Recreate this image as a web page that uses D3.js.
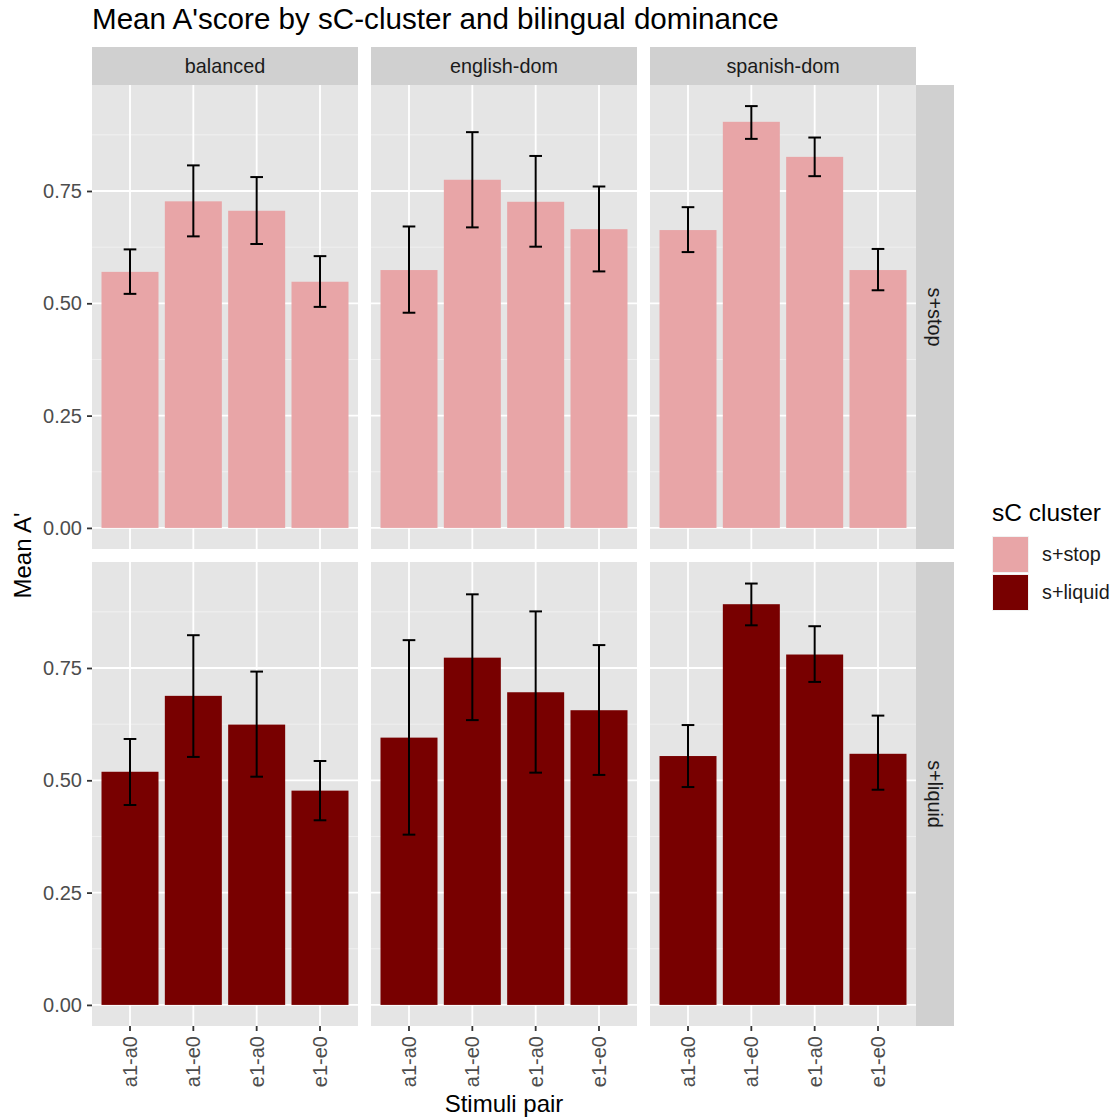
<!DOCTYPE html>
<html>
<head>
<meta charset="utf-8">
<script src="https://cdn.jsdelivr.net/npm/d3@7"></script>
<style>
  html, body { margin: 0; padding: 0; background: #ffffff; }
  svg { display: block; font-family: "Liberation Sans", Arial, Helvetica, sans-serif; }
</style>
</head>
<body>
<svg id="chart" width="1117" height="1120"></svg>
<script>
// Facet levels and categories
const dominance = ["balanced", "english-dom", "spanish-dom"];
const clusters = ["s+stop", "s+liquid"];
const pairs = ["a1-a0", "a1-e0", "e1-a0", "e1-e0"];
const yTicks = [0, 0.25, 0.5, 0.75];
const yMinor = [0.125, 0.375, 0.625, 0.875];

// Mean A' per pair (order of `pairs`), one array per cluster x dominance
const meanStopBalanced = [0.570, 0.727, 0.706, 0.548];
const meanStopEnglish  = [0.574, 0.775, 0.726, 0.665];
const meanStopSpanish  = [0.663, 0.904, 0.826, 0.574];
const meanLiqBalanced  = [0.519, 0.688, 0.624, 0.477];
const meanLiqEnglish   = [0.595, 0.773, 0.696, 0.656];
const meanLiqSpanish   = [0.554, 0.892, 0.780, 0.559];

// Error bar lower / upper bounds
const lowStopBalanced  = [0.521, 0.649, 0.632, 0.492];
const highStopBalanced = [0.620, 0.807, 0.781, 0.605];
const lowStopEnglish   = [0.479, 0.669, 0.626, 0.571];
const highStopEnglish  = [0.671, 0.881, 0.828, 0.760];
const lowStopSpanish   = [0.614, 0.866, 0.783, 0.529];
const highStopSpanish  = [0.714, 0.939, 0.869, 0.621];
const lowLiqBalanced   = [0.445, 0.552, 0.508, 0.411];
const highLiqBalanced  = [0.592, 0.823, 0.742, 0.543];
const lowLiqEnglish    = [0.379, 0.634, 0.517, 0.512];
const highLiqEnglish   = [0.812, 0.914, 0.876, 0.801];
const lowLiqSpanish    = [0.485, 0.845, 0.719, 0.479];
const highLiqSpanish   = [0.623, 0.938, 0.843, 0.644];

const clusterColors = ["#E8A5A7", "#780000"];

// Assemble long-format rows for drawing
const series = [
  [[meanStopBalanced, lowStopBalanced, highStopBalanced],
   [meanStopEnglish, lowStopEnglish, highStopEnglish],
   [meanStopSpanish, lowStopSpanish, highStopSpanish]],
  [[meanLiqBalanced, lowLiqBalanced, highLiqBalanced],
   [meanLiqEnglish, lowLiqEnglish, highLiqEnglish],
   [meanLiqSpanish, lowLiqSpanish, highLiqSpanish]]
];
const rows = [];
clusters.forEach((cl, r) => dominance.forEach((dom, c) => pairs.forEach((p, i) => {
  const [m, lo, hi] = series[r][c];
  rows.push({ cluster: cl, dom, pair: p, r, c, mean: m[i], lo: lo[i], hi: hi[i] });
})));

// Layout
const svg = d3.select("#chart");
const panelLeft = 92, panelW = 266, gap = 13;
const panelTop = 85, panelH = 464;
const stripH = 38;

const x = d3.scaleBand().domain(pairs).range([0, panelW]).paddingInner(0.1).paddingOuter(0.15);
const yMax = d3.max(rows, d => d.hi);
const pad = yMax * 0.05;
const y = d3.scaleLinear().domain([-pad, yMax + pad]).range([panelH, 0]);

const textDark = "#1a1a1a", textMid = "#4d4d4d";
const tickFont = 20, stripFont = 19.8;

// Title
svg.append("text").attr("x", panelLeft).attr("y", 29)
  .attr("font-size", 29.6).attr("fill", "#000")
  .text("Mean A'score by sC-cluster and bilingual dominance");

clusters.forEach((cl, r) => {
  const py = panelTop + r * (panelH + gap);
  dominance.forEach((dom, c) => {
    const px = panelLeft + c * (panelW + gap);
    const g = svg.append("g").attr("transform", `translate(${px},${py})`);
    g.append("rect").attr("width", panelW).attr("height", panelH).attr("fill", "#E5E5E5");
    // minor grid
    g.selectAll(".ymin").data(yMinor).join("line")
      .attr("x1", 0).attr("x2", panelW)
      .attr("y1", d => y(d)).attr("y2", d => y(d))
      .attr("stroke", "#F2F2F2").attr("stroke-width", 0.9);
    // major grid
    g.selectAll(".ymaj").data(yTicks).join("line")
      .attr("x1", 0).attr("x2", panelW)
      .attr("y1", d => y(d)).attr("y2", d => y(d))
      .attr("stroke", "#fff").attr("stroke-width", 1.8);
    g.selectAll(".xmaj").data(pairs).join("line")
      .attr("x1", d => x(d) + x.bandwidth() / 2).attr("x2", d => x(d) + x.bandwidth() / 2)
      .attr("y1", 0).attr("y2", panelH)
      .attr("stroke", "#fff").attr("stroke-width", 1.8);

    const data = rows.filter(d => d.r === r && d.c === c);
    g.selectAll(".bar").data(data).join("rect")
      .attr("x", d => x(d.pair)).attr("width", x.bandwidth())
      .attr("y", d => y(d.mean)).attr("height", d => y(0) - y(d.mean))
      .attr("fill", clusterColors[r]);

    // error bars
    const capW = x.step() * 0.2;
    const eb = g.selectAll(".eb").data(data).join("g")
      .attr("stroke", "#000").attr("stroke-width", 2).attr("fill", "none");
    eb.append("line")
      .attr("x1", d => x(d.pair) + x.bandwidth() / 2).attr("x2", d => x(d.pair) + x.bandwidth() / 2)
      .attr("y1", d => y(d.lo)).attr("y2", d => y(d.hi));
    eb.append("line")
      .attr("x1", d => x(d.pair) + x.bandwidth() / 2 - capW / 2).attr("x2", d => x(d.pair) + x.bandwidth() / 2 + capW / 2)
      .attr("y1", d => y(d.hi)).attr("y2", d => y(d.hi));
    eb.append("line")
      .attr("x1", d => x(d.pair) + x.bandwidth() / 2 - capW / 2).attr("x2", d => x(d.pair) + x.bandwidth() / 2 + capW / 2)
      .attr("y1", d => y(d.lo)).attr("y2", d => y(d.lo));

    // column strips on the first row
    if (r === 0) {
      const s = svg.append("g").attr("transform", `translate(${px},${panelTop - stripH})`);
      s.append("rect").attr("width", panelW).attr("height", stripH).attr("fill", "#D0D0D0");
      s.append("text").attr("x", panelW / 2).attr("y", stripH / 2).attr("dy", "0.35em")
        .attr("text-anchor", "middle").attr("font-size", stripFont).attr("fill", textDark).text(dom);
    }

    // y axis on first column
    if (c === 0) {
      const ax = g.append("g").call(d3.axisLeft(y).tickValues(yTicks).tickFormat(d3.format(".2f")).tickSize(5).tickPadding(5));
      ax.select(".domain").remove();
      ax.selectAll(".tick line").attr("stroke", "#333").attr("stroke-width", 1.8);
      ax.selectAll(".tick text").attr("font-size", tickFont).attr("fill", textMid)
        .attr("font-family", "Liberation Sans, Arial, sans-serif");
    }
    // x axis on bottom row
    if (r === clusters.length - 1) {
      const ax = g.append("g").attr("transform", `translate(0,${panelH})`)
        .call(d3.axisBottom(x).tickSize(5).tickPadding(4));
      ax.select(".domain").remove();
      ax.selectAll(".tick line").attr("stroke", "#333").attr("stroke-width", 1.8);
      ax.selectAll(".tick text").attr("font-size", tickFont).attr("fill", textMid)
        .attr("font-family", "Liberation Sans, Arial, sans-serif")
        .attr("transform", "rotate(-90)")
        .attr("text-anchor", "end").attr("x", -10).attr("y", 0).attr("dy", "0.35em");
    }
  });
  // row strip on the right
  const sx = panelLeft + dominance.length * panelW + (dominance.length - 1) * gap;
  const s = svg.append("g").attr("transform", `translate(${sx},${py})`);
  s.append("rect").attr("width", stripH).attr("height", panelH).attr("fill", "#D0D0D0");
  s.append("text").attr("transform", `translate(${stripH / 2},${panelH / 2}) rotate(90)`)
    .attr("dy", "0.35em").attr("text-anchor", "middle").attr("font-size", stripFont).attr("fill", textDark).text(cl);
});

// Axis titles
const plotRight = panelLeft + 3 * panelW + 2 * gap;
svg.append("text").attr("x", (panelLeft + plotRight) / 2).attr("y", 1112)
  .attr("text-anchor", "middle").attr("font-size", 24).attr("fill", "#000").text("Stimuli pair");
svg.append("text").attr("transform", `translate(31,${panelTop + panelH + gap / 2}) rotate(-90)`)
  .attr("text-anchor", "middle").attr("font-size", 24).attr("fill", "#000").text("Mean A'");

// Legend
const lg = svg.append("g").attr("transform", "translate(992,0)");
lg.append("text").attr("x", 0).attr("y", 521).attr("font-size", 24.5).attr("fill", "#000").text("sC cluster");
clusters.forEach((cl, i) => {
  const ky = 536 + i * 38;
  lg.append("rect").attr("x", 0).attr("y", ky).attr("width", 37).attr("height", 37).attr("fill", "#F2F2F2");
  lg.append("rect").attr("x", 1).attr("y", ky + 1).attr("width", 35).attr("height", 35).attr("fill", clusterColors[i]);
  lg.append("text").attr("x", 50).attr("y", ky + 18.5).attr("dy", "0.35em")
    .attr("font-size", 19.8).attr("fill", textDark).text(cl);
});
</script>
</body>
</html>
